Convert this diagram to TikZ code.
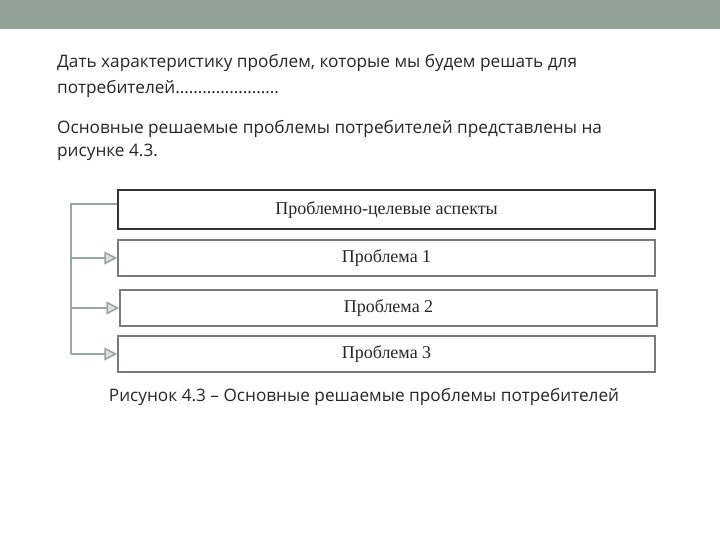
\documentclass[tikz,border=0pt]{standalone}
\usepackage{fontspec}
\setmainfont{Open Sans}
\newfontfamily\boxfont{Liberation Serif}
\usetikzlibrary{arrows.meta}
\definecolor{barcol}{HTML}{91A195}
\definecolor{linecol}{HTML}{9AA59F}
\definecolor{boxline}{HTML}{7A7A7A}
\tikzset{
  probbox/.style={draw=boxline, line width=1.5pt, fill=white, minimum width=537pt, minimum height=36pt, inner sep=0pt, font=\boxfont\fontsize{18}{21}\selectfont, text=black!85},
  conn/.style={draw=linecol, line width=2pt},
  arr/.style={conn, -{Triangle[length=13pt,width=13pt,fill=linecol!35,line width=1.5pt]}},
  body/.style={anchor=base west, inner sep=0pt, font=\fontsize{17.2}{20}\selectfont, text=black!85}
}
\begin{document}
\begin{tikzpicture}[x=1pt,y=-1pt]
\useasboundingbox (0,0) rectangle (720,540);
\fill[barcol] (0,0) rectangle (720,29);
\node[body] (l1) at (57,68) {Дать характеристику проблем, которые мы будем решать для};
\node[body] (l2) at (57,94) {потребителей…………………..};
\node[body] (l3) at (57,134) {Основные решаемые проблемы потребителей представлены на};
\node[body] (l4) at (57,157) {рисунке 4.3.};
\node[probbox, draw=black!80, minimum height=39pt] (b0) at (386.5,209.5) {Проблемно-целевые аспекты};
\node[probbox] (b1) at (386.5,258) {Проблема 1};
\node[probbox] (b2) at (388.5,308) {Проблема 2};
\node[probbox] (b3) at (386.5,354) {Проблема 3};
\coordinate (t0) at (71,204);
\coordinate (t1) at (71,258);
\coordinate (t2) at (71,308);
\coordinate (t3) at (71,354);
\draw[conn] (b0.west |- t0) -- (t0) -- (t3);
\draw[arr] (t1) -- (b1.west);
\draw[arr] (t2) -- (b2.west);
\draw[arr] (t3) -- (b3.west);
\node[body, anchor=base] (cap) at (364,401) {Рисунок 4.3 – Основные решаемые проблемы потребителей};
\end{tikzpicture}
\end{document}
